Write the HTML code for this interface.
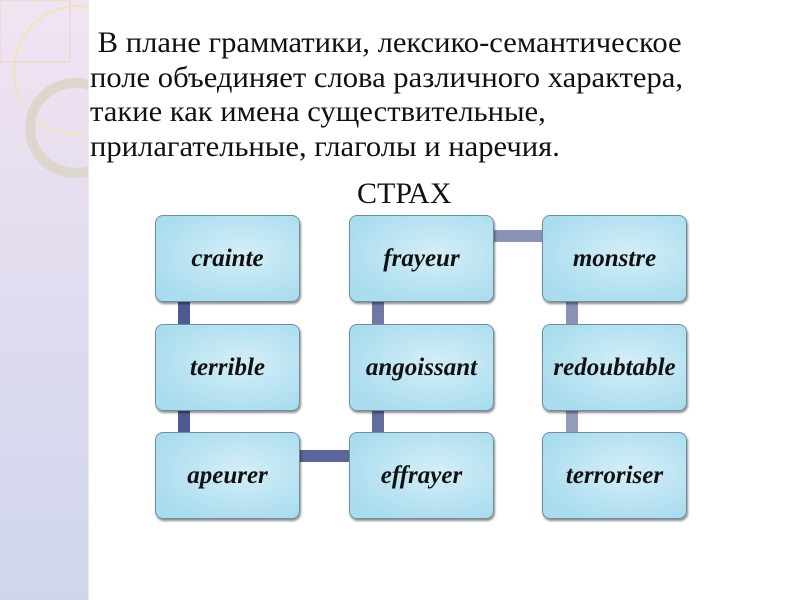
<!DOCTYPE html>
<html><head><meta charset="utf-8"><style>
body{margin:0;width:800px;height:600px;position:relative;overflow:hidden;background:#fff;font-family:"Liberation Serif",serif}
.side{position:absolute;left:0;top:0;width:88px;height:600px;background:linear-gradient(180deg,#f1e4f2 0%,#e2dcef 45%,#cfd6ec 100%);border-right:1px solid #e8e8ee}
.box{position:absolute;width:143px;height:85px;border-radius:8px;border:1px solid #6d8fa0;background:radial-gradient(ellipse at 60% 45%,#d4eef8 0%,#a9dcee 80%);box-shadow:1px 2px 2px rgba(0,0,0,.45);display:flex;align-items:center;justify-content:center;font-weight:bold;font-style:italic;font-size:25px;color:#111}
.c{position:absolute}
.txt{position:absolute;left:90px;top:26px;font-size:30px;line-height:34.5px;color:#111;white-space:nowrap;transform-origin:0 0;transform:scaleX(1.02)}
</style></head><body>
<div class="side"></div>
<svg style="position:absolute;left:0;top:0" width="88" height="180">
<circle cx="78" cy="70" r="64" fill="none" stroke="#f0e4b8" stroke-width="2"/>
<circle cx="75" cy="128" r="45" fill="none" stroke="#dcd6cc" stroke-width="10"/>
<rect x="0" y="0" width="70" height="62" fill="none" stroke="#e8d6b0" stroke-width="1"/>
</svg>
<div class="txt">&nbsp;В плане грамматики, лексико-семантическое<br>поле объединяет слова различного характера,<br>такие как имена существительные,<br>прилагательные, глаголы и наречия.</div>
<div style="position:absolute;left:357px;top:177px;font-size:30px;color:#111">СТРАХ</div>
<div class="c" style="left:178px;top:300px;width:12px;height:26px;background:#4c5a8f"></div>
<div class="c" style="left:178px;top:408px;width:12px;height:26px;background:#4c5a8f"></div>
<div class="c" style="left:372px;top:300px;width:12px;height:26px;background:#7079a6"></div>
<div class="c" style="left:372px;top:408px;width:12px;height:26px;background:#636da0"></div>
<div class="c" style="left:566px;top:300px;width:12px;height:26px;background:#8a93b5"></div>
<div class="c" style="left:566px;top:408px;width:12px;height:26px;background:#959cb9"></div>
<div class="c" style="left:494px;top:230px;width:50px;height:12px;background:#8a93b5"></div>
<div class="c" style="left:298px;top:450px;width:52px;height:12px;background:#5a6699"></div>
<div class="box" style="left:155px;top:215px">crainte</div>
<div class="box" style="left:349px;top:215px">frayeur</div>
<div class="box" style="left:542px;top:215px">monstre</div>
<div class="box" style="left:155px;top:324px">terrible</div>
<div class="box" style="left:349px;top:324px">angoissant</div>
<div class="box" style="left:542px;top:324px">redoubtable</div>
<div class="box" style="left:155px;top:432px">apeurer</div>
<div class="box" style="left:349px;top:432px">effrayer</div>
<div class="box" style="left:542px;top:432px">terroriser</div>
</body></html>
